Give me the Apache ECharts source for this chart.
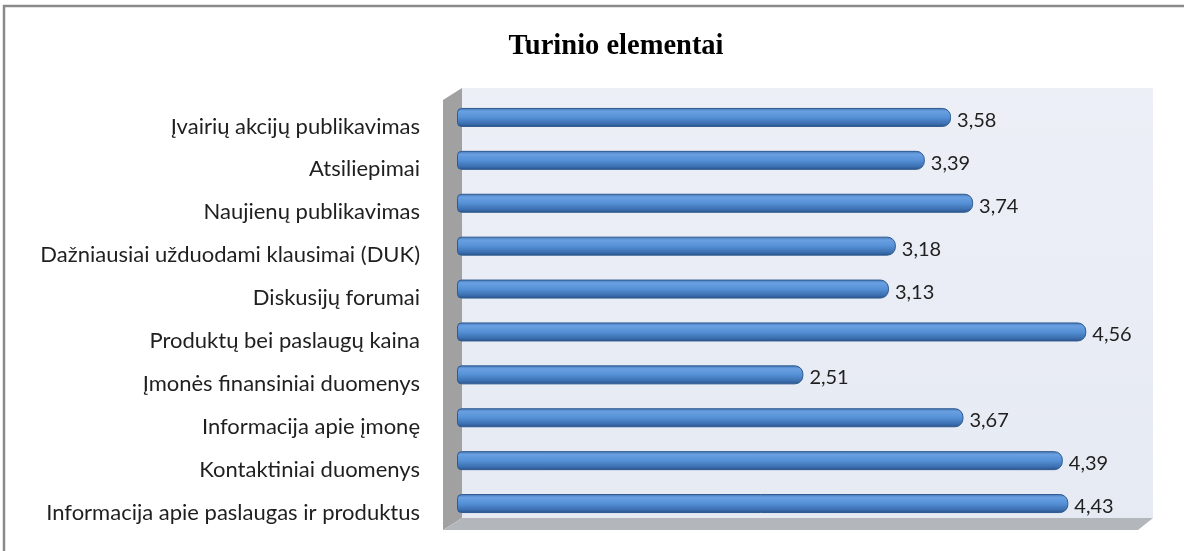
<!DOCTYPE html>
<html>
<head>
<meta charset="utf-8">
<script src="https://cdn.jsdelivr.net/npm/echarts@6/dist/echarts.min.js"></script>
<style>
    html, body { margin: 0; padding: 0; background: #fff; }
    #chart { width: 1184px; height: 551px; }
</style>
</head>
<body>
<div id="chart"></div>
<script>
    // duomenys, is virsaus i apacia
    var categories = [
        'Įvairių akcijų publikavimas',
        'Atsiliepimai',
        'Naujienų publikavimas',
        'Dažniausiai užduodami klausimai (DUK)',
        'Diskusijų forumai',
        'Produktų bei paslaugų kaina',
        'Įmonės finansiniai duomenys',
        'Informacija apie įmonę',
        'Kontaktiniai duomenys',
        'Informacija apie paslaugas ir produktus'
    ];
    var values = [3.58, 3.39, 3.74, 3.18, 3.13, 4.56, 2.51, 3.67, 4.39, 4.43];
    var axisMin = 0;
    var axisMax = 5;

    var labelFont = 'Lato';

    var barColor = new echarts.graphic.LinearGradient(0, 0, 0, 1, [
        { offset: 0, color: '#4275b5' },
        { offset: 0.18, color: '#6aa0e2' },
        { offset: 0.5, color: '#5590d6' },
        { offset: 0.82, color: '#3c70b1' },
        { offset: 1, color: '#2a5189' }
    ]);

    var option = {
        backgroundColor: '#ffffff',
        animation: false,
        title: {
            text: 'Turinio elementai',
            left: 611,
            top: 27,
            textAlign: 'center',
            textStyle: {
                fontFamily: 'Liberation Serif',
                fontWeight: 'bold',
                fontSize: 28.5,
                color: '#000'
            }
        },
        graphic: [
            // remelis
            { type: 'rect', z: 0, shape: { x: 4, y: 6, width: 1200, height: 560 },
              style: { fill: null, stroke: '#8a8a8a', lineWidth: 2.5 } },
            // galine siena
            { type: 'rect', z: 0, shape: { x: 462, y: 88, width: 691, height: 430 },
              style: { fill: new echarts.graphic.LinearGradient(0, 0, 0, 1, [
                  { offset: 0, color: '#eceff6' },
                  { offset: 1, color: '#e6eaf3' }
              ]) } },
            // kaire siena
            { type: 'polygon', z: 1, shape: { points: [[443, 100], [462, 88], [462, 518], [443, 530]] },
              style: { fill: '#a1a1a1' } },
            // grindys
            { type: 'polygon', z: 1, shape: { points: [[443, 530], [462, 518], [1153, 518], [1138, 530]] },
              style: { fill: '#b3b6bb' } }
        ],
        grid: {
            left: 457,
            right: 1184 - 1147,
            top: 96,
            bottom: 551 - 525,
            containLabel: false
        },
        xAxis: {
            type: 'value',
            min: axisMin,
            max: axisMax,
            show: false
        },
        yAxis: {
            type: 'category',
            data: categories,
            inverse: true,
            axisLine: { show: false },
            axisTick: { show: false },
            splitLine: { show: false },
            axisLabel: {
                margin: 37,
                verticalAlign: 'top',
                lineHeight: 18,
                fontFamily: labelFont,
                fontSize: 22,
                color: '#1f1f1f'
            }
        },
        series: [
            {
                type: 'bar',
                data: values,
                barWidth: 19,
                z: 5,
                itemStyle: {
                    color: barColor,
                    borderColor: '#2f5a8f',
                    borderWidth: 1,
                    borderRadius: [4, 8, 8, 4]
                },
                label: {
                    show: true,
                    position: 'right',
                    distance: 6,
                    offset: [0, 3],
                    fontFamily: labelFont,
                    fontSize: 20,
                    color: '#1f1f1f',
                    formatter: function (p) {
                        return p.value.toFixed(2).replace('.', ',');
                    }
                }
            }
        ]
    };

    var myChart = echarts.init(document.getElementById('chart'));
    myChart.setOption(option);
</script>
</body>
</html>
